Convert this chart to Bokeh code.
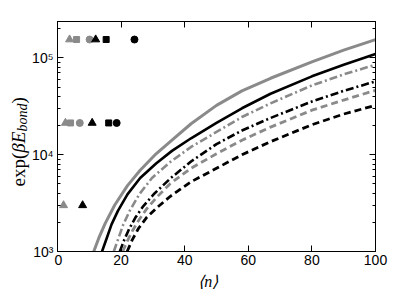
import math
from bokeh.plotting import figure
from bokeh.layouts import row, column
from bokeh.models import (Range1d, LinearAxis, LogAxis, FixedTicker, Label,
                          CustomJSTickFormatter)
from bokeh.embed import file_html
from bokeh.resources import INLINE

# ---------------- data ----------------
gs_n = [11.4, 13, 15, 18, 22, 26, 31, 36, 42, 50, 58, 67, 80, 90, 100]
gs_y = [1000, 1380, 1950, 3020, 4790, 6920, 10230, 14130, 20890, 32360, 45710, 61660, 91200, 120230, 154880]

bs_n = [14, 15.5, 17, 19, 22, 26, 31, 36, 42, 50, 58, 67, 80, 90, 100]
bs_y = [1000, 1380, 1905, 2630, 3890, 5750, 8130, 10960, 14790, 21380, 30200, 42660, 64570, 85110, 109650]

gd_n = [17.7, 19.2, 20.7, 22.7, 25.7, 29.7, 35.5, 42, 50, 58, 67, 80, 90, 100]
gd_y = [1000, 1380, 1905, 2630, 3890, 5750, 8430, 12020, 17180, 24550, 33960, 52000, 67610, 85110]

bd_n = [19.6, 21, 22.5, 24.5, 27, 30.5, 35.5, 42, 50, 58, 67, 80, 90, 100]
bd_y = [1000, 1320, 1700, 2240, 2950, 3980, 5690, 8510, 12880, 17780, 23990, 35480, 45710, 57280]

gda_n = [20.5, 22, 23.5, 25.5, 28, 31.5, 35.5, 42, 50, 58, 67, 80, 90, 100]
gda_y = [1000, 1290, 1620, 2090, 2750, 3720, 5050, 7240, 10230, 14130, 19280, 28840, 36730, 46240]

bda_n = [21.9, 23.5, 25.5, 28, 31.5, 35.5, 42, 50, 58, 67, 80, 90, 100]
bda_y = [1000, 1320, 1740, 2240, 2880, 3720, 5250, 7240, 10000, 13650, 20420, 26300, 32360]

# markers
gray_tri_n = [3.8, 2.5, 1.9]
gray_tri_y = [155000, 21300, 3000]
gray_sq_n = [6.0, 4.1]
gray_sq_y = [155000, 21300]
gray_circ_n = [10.1, 7.0]
gray_circ_y = [155000, 21300]
blk_tri_n = [12.0, 10.9, 7.9]
blk_tri_y = [155000, 21300, 3000]
blk_sq_n = [15.3, 16.1]
blk_sq_y = [155000, 21300]
blk_circ_n = [24.2, 18.6]
blk_circ_y = [155000, 21300]

x_ticks = [0, 20, 40, 60, 80, 100]
y_ticks = [1e3, 1e4, 1e5]
y_tick_labels = ["10³", "10⁴", "10⁵"]

# ---------------- layout ----------------
GRAY = "#8a8a8a"
W, H = 415, 289
LW = 54                               # left strip: y tick labels + y label
BH = 18                               # bottom strip: x label
FL, FR, FT, FB = 57, 375, 21, 251     # frame edges in page pixels
Y0, Y1 = 1e3, 2.38e5

PW, PH = W - LW, H - BH
p = figure(width=PW, height=PH, x_range=Range1d(0, 100), y_range=Range1d(Y0, Y1),
           y_axis_type="log", output_backend="svg", toolbar_location=None,
           min_border_left=FL - LW, min_border_right=W - FR, min_border_top=FT,
           min_border_bottom=PH - FB)
p.grid.visible = False
p.outline_line_color = "black"
p.background_fill_color = "white"
p.border_fill_color = "white"

minor_y = [k * 10 ** d for d in range(3, 6) for k in range(2, 10)]
empty = CustomJSTickFormatter(code="return ''")

xa = p.xaxis[0]
xa.ticker = FixedTicker(ticks=x_ticks)
ya = p.yaxis[0]
ya.ticker = FixedTicker(ticks=y_ticks, minor_ticks=minor_y)
ya.formatter = empty
ya.major_label_text_font_size = "1px"
ya.major_label_standoff = 0

for ax in (xa, ya):
    ax.major_tick_in = 6
    ax.major_tick_out = 0
    ax.minor_tick_in = 3
    ax.minor_tick_out = 0
    ax.axis_line_color = "black"
xa.minor_tick_line_color = None
xa.major_label_text_font = "Liberation Sans"
xa.major_label_text_font_size = "14px"
xa.major_label_text_color = "black"
xa.major_label_standoff = 3

top = LinearAxis(ticker=FixedTicker(ticks=x_ticks), formatter=empty,
                 major_tick_in=6, major_tick_out=0, minor_tick_line_color=None,
                 major_label_text_font_size="1px", major_label_standoff=0)
right = LogAxis(ticker=FixedTicker(ticks=y_ticks, minor_ticks=minor_y), formatter=empty,
                major_tick_in=6, major_tick_out=0, minor_tick_in=3, minor_tick_out=0,
                major_label_text_font_size="1px", major_label_standoff=0)
p.add_layout(top, "above")
p.add_layout(right, "right")

# ---------------- curves ----------------
p.line(gs_n, gs_y, line_color=GRAY, line_width=3)
p.line(bs_n, bs_y, line_color="black", line_width=2.6)
p.line(gd_n, gd_y, line_color=GRAY, line_width=2.6, line_dash="8 3 2 3")
p.line(bd_n, bd_y, line_color="black", line_width=2.6, line_dash="8 3 2 3")
p.line(gda_n, gda_y, line_color=GRAY, line_width=2.8, line_dash="7 4")
p.line(bda_n, bda_y, line_color="black", line_width=2.8, line_dash="7 4")

# ---------------- markers ----------------
p.scatter(gray_tri_n, gray_tri_y, marker="triangle", size=8, color=GRAY)
p.scatter(gray_sq_n, gray_sq_y, marker="square", size=6, color=GRAY)
p.scatter(gray_circ_n, gray_circ_y, marker="circle", size=7, color=GRAY)
p.scatter(blk_tri_n, blk_tri_y, marker="triangle", size=8, color="black")
p.scatter(blk_sq_n, blk_sq_y, marker="square", size=6, color="black")
p.scatter(blk_circ_n, blk_circ_y, marker="circle", size=7, color="black")

# ---------------- left strip: y tick labels and y label ----------------
DEC = (FB - FT) / math.log10(Y1 / Y0)          # pixels per decade
lab_y0 = 10 ** (math.log10(Y0) - (H - FB) / DEC)
lab_y1 = 10 ** (math.log10(Y1) + FT / DEC)
lab = figure(width=LW, height=H, x_range=Range1d(0, LW), y_range=Range1d(lab_y0, lab_y1),
             y_axis_type="log", output_backend="svg", toolbar_location=None,
             x_axis_type=None, y_axis_location=None, min_border=0,
             outline_line_color=None)
lab.grid.visible = False
lab.background_fill_color = "white"
lab.border_fill_color = "white"

for t, s in zip(y_ticks, y_tick_labels):
    lab.add_layout(Label(x=LW - 1, y=t, text=s, text_font="Liberation Sans",
                         text_font_size="14px", text_align="right",
                         text_baseline="middle", text_color="black"))

SERIF = "Liberation Serif"
ang = math.pi / 2
parts = [("exp(", "normal", "19px", 0, 33.8),
         ("βE", "italic", "19px", 0, 21.1),
         ("bond", "italic", "14px", 4, 28.0),
         (")", "normal", "19px", 0, 6.3)]
pos = 186
for txt, style, size, dx, w in parts:
    lab.add_layout(Label(x=18 + dx, y=H - pos, x_units="screen", y_units="screen",
                         text=txt, text_font=SERIF, text_font_style=style,
                         text_font_size=size, angle=ang, text_align="left",
                         text_baseline="alphabetic", text_color="black"))
    pos -= w

# ---------------- bottom strip: x label ----------------
bot = figure(width=PW, height=BH, x_range=Range1d(0, PW), y_range=Range1d(0, BH),
             output_backend="svg", toolbar_location=None, x_axis_type=None,
             y_axis_type=None, min_border=0, outline_line_color=None)
bot.grid.visible = False
bot.background_fill_color = "white"
bot.border_fill_color = "white"
bot.add_layout(Label(x=225 - LW, y=H - 281, text="⟨n⟩", text_font=SERIF,
                     text_font_style="italic", text_font_size="16px",
                     text_align="center", text_baseline="middle", text_color="black"))

layout = row(lab, column(p, bot, spacing=0), spacing=0)
open("out.html", "w").write(file_html(layout, INLINE))
